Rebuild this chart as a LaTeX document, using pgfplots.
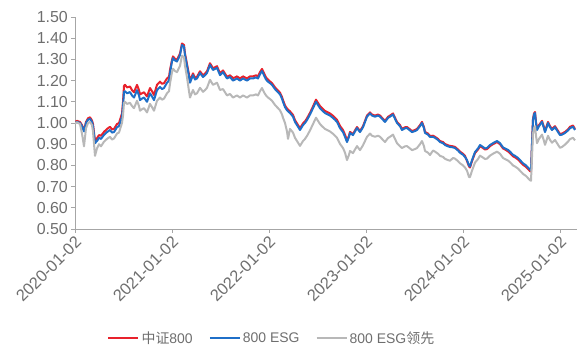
\documentclass[border=0pt]{standalone}
\usepackage{fontspec}
\setmainfont{Liberation Sans}
\newfontfamily\cjk{Noto Sans CJK SC}
\usepackage{pgfplots}
\usepackage{pgfplotstable}
\pgfplotsset{compat=1.18}
\definecolor{cred}{HTML}{E8222C}
\definecolor{cblue}{HTML}{1F6FC8}
\definecolor{cgray}{HTML}{B8B8B8}
\definecolor{ctext}{HTML}{6E6E6E}
\definecolor{caxis}{HTML}{A6A6A6}
\pgfplotstableread{
x red blue gray
0 1.005 1.000 1.000
2 1.010 1.005 1.003
5 1.005 1.000 0.995
7 0.990 0.985 0.950
9 0.965 0.960 0.890
11 1.005 1.000 0.975
13 1.022 1.015 1.000
15 1.027 1.020 1.005
17 1.012 1.005 0.990
18 0.995 0.985 0.960
20 0.915 0.905 0.845
22 0.928 0.915 0.880
24 0.943 0.930 0.900
26 0.940 0.925 0.890
29 0.958 0.944 0.912
32 0.972 0.957 0.925
35 0.982 0.967 0.935
37 0.970 0.955 0.922
39 0.972 0.957 0.927
42 0.995 0.980 0.950
44 1.000 0.985 0.955
45 1.015 1.000 0.970
47 1.045 1.030 1.000
48 1.100 1.080 1.035
49 1.175 1.146 1.095
50 1.180 1.150 1.100
52 1.168 1.140 1.090
55 1.172 1.146 1.095
57 1.155 1.130 1.080
59 1.145 1.120 1.070
62 1.180 1.155 1.105
64 1.155 1.130 1.080
65 1.135 1.108 1.058
67 1.140 1.115 1.065
69 1.145 1.120 1.070
72 1.125 1.100 1.050
75 1.165 1.140 1.090
77 1.150 1.125 1.075
79 1.132 1.108 1.058
82 1.180 1.155 1.105
85 1.195 1.170 1.120
87 1.185 1.160 1.110
89 1.188 1.165 1.115
92 1.210 1.190 1.140
94 1.218 1.200 1.150
95 1.250 1.236 1.186
97 1.298 1.290 1.240
98 1.314 1.306 1.256
100 1.303 1.295 1.245
102 1.298 1.290 1.240
105 1.328 1.320 1.270
107 1.375 1.368 1.318
109 1.368 1.360 1.310
110 1.328 1.320 1.270
112 1.278 1.270 1.215
114 1.228 1.220 1.150
115 1.198 1.190 1.120
118 1.234 1.226 1.156
120 1.213 1.205 1.135
122 1.218 1.210 1.140
125 1.244 1.236 1.166
128 1.225 1.217 1.147
130 1.233 1.225 1.155
132 1.244 1.236 1.166
135 1.282 1.274 1.204
138 1.258 1.250 1.180
140 1.263 1.255 1.185
142 1.268 1.260 1.190
145 1.234 1.226 1.156
148 1.248 1.240 1.160
150 1.233 1.225 1.145
152 1.218 1.210 1.130
155 1.225 1.217 1.137
158 1.212 1.200 1.120
160 1.215 1.205 1.125
162 1.220 1.210 1.130
165 1.210 1.200 1.120
168 1.220 1.210 1.130
170 1.215 1.205 1.125
172 1.210 1.200 1.120
175 1.220 1.210 1.130
178 1.220 1.210 1.130
181 1.225 1.215 1.135
183 1.220 1.210 1.130
185 1.240 1.230 1.150
187 1.255 1.245 1.165
189 1.235 1.225 1.145
191 1.215 1.205 1.130
193 1.205 1.195 1.120
195 1.196 1.188 1.113
197 1.188 1.180 1.105
200 1.168 1.160 1.085
202 1.158 1.150 1.075
205 1.143 1.135 1.060
207 1.123 1.115 1.040
208 1.108 1.100 1.025
210 1.083 1.075 1.000
212 1.068 1.060 0.960
213 1.063 1.055 0.925
215 1.055 1.047 0.972
218 1.038 1.030 0.955
220 1.013 1.005 0.930
222 0.998 0.990 0.915
225 0.975 0.967 0.892
228 0.998 0.990 0.915
230 1.008 1.000 0.925
232 1.022 1.014 0.939
235 1.048 1.040 0.965
238 1.078 1.070 0.995
241 1.110 1.100 1.025
243 1.095 1.085 1.010
245 1.080 1.070 0.995
247 1.070 1.060 0.985
250 1.057 1.047 0.972
253 1.050 1.040 0.965
255 1.045 1.035 0.960
258 1.034 1.024 0.949
260 1.025 1.015 0.940
262 1.015 1.005 0.930
265 0.986 0.976 0.901
268 0.967 0.957 0.882
270 0.945 0.935 0.860
272 0.918 0.910 0.825
274 0.940 0.935 0.850
275 0.958 0.953 0.868
278 0.948 0.943 0.858
280 0.965 0.960 0.875
282 0.981 0.976 0.891
285 0.962 0.957 0.872
288 0.985 0.980 0.895
290 1.010 1.005 0.915
292 1.035 1.030 0.935
295 1.050 1.045 0.950
297 1.040 1.035 0.940
300 1.035 1.030 0.935
303 1.040 1.035 0.940
305 1.035 1.030 0.935
308 1.020 1.015 0.920
310 1.010 1.005 0.910
313 1.029 1.024 0.929
315 1.035 1.030 0.935
318 1.045 1.040 0.945
320 1.025 1.020 0.925
322 1.005 1.000 0.905
325 0.990 0.985 0.890
327 0.972 0.967 0.882
330 0.980 0.975 0.890
332 0.981 0.976 0.891
335 0.970 0.965 0.880
337 0.962 0.957 0.872
340 0.967 0.962 0.877
342 0.972 0.967 0.882
345 0.990 0.985 0.900
347 1.005 1.000 0.915
349 0.980 0.975 0.890
350 0.958 0.953 0.868
353 0.950 0.945 0.860
355 0.939 0.934 0.849
358 0.940 0.935 0.870
360 0.935 0.930 0.865
363 0.925 0.920 0.855
365 0.915 0.910 0.845
368 0.910 0.905 0.840
370 0.901 0.896 0.831
373 0.895 0.890 0.825
375 0.892 0.887 0.822
378 0.890 0.885 0.835
380 0.887 0.882 0.832
383 0.875 0.870 0.820
385 0.865 0.860 0.810
388 0.855 0.850 0.800
390 0.845 0.840 0.790
392 0.820 0.825 0.775
394 0.795 0.800 0.745
395 0.790 0.795 0.745
397 0.820 0.825 0.775
400 0.858 0.863 0.813
403 0.875 0.880 0.830
405 0.891 0.896 0.846
408 0.882 0.887 0.837
410 0.875 0.880 0.830
412 0.877 0.882 0.832
415 0.891 0.896 0.846
418 0.900 0.905 0.855
420 0.905 0.910 0.860
422 0.910 0.915 0.865
425 0.900 0.905 0.855
428 0.880 0.885 0.835
430 0.875 0.880 0.830
433 0.866 0.873 0.823
435 0.858 0.865 0.815
438 0.843 0.850 0.800
440 0.838 0.845 0.795
443 0.828 0.835 0.785
445 0.818 0.825 0.775
448 0.803 0.810 0.760
451 0.793 0.800 0.750
453 0.783 0.790 0.740
455 0.773 0.780 0.730
456 0.771 0.778 0.728
457 0.905 0.900 0.840
458 1.019 1.014 0.950
459 1.045 1.040 0.975
460 1.052 1.047 0.985
461 1.005 1.000 0.940
462 0.972 0.967 0.905
464 0.990 0.985 0.925
467 1.010 1.005 0.945
469 0.980 0.975 0.915
470 0.962 0.957 0.897
472 0.990 0.985 0.925
473 1.005 1.000 0.940
475 0.985 0.980 0.920
477 0.972 0.967 0.907
480 0.985 0.980 0.920
482 0.970 0.965 0.905
485 0.948 0.943 0.883
487 0.950 0.945 0.887
490 0.958 0.953 0.898
493 0.970 0.965 0.912
495 0.982 0.976 0.924
498 0.988 0.982 0.930
500 0.972 0.967 0.918
}\datatab
\begin{document}
\begin{tikzpicture}
\useasboundingbox (0,0) rectangle (582bp,354bp);
\begin{axis}[
  at={(75bp,125bp)}, anchor=south west,
  scale only axis, width=502bp, height=212bp,
  xmin=0, xmax=502, ymin=0.5, ymax=1.5,
  axis x line*=bottom, axis y line*=left,
  axis line style={caxis, line width=0.8bp},
  every tick/.style={caxis, line width=0.8bp},
  tick align=outside, major tick length=4bp,
  xtick={0,97,194,291,388,485},
  xticklabels={2020-01-02,2021-01-02,2022-01-02,2023-01-02,2024-01-02,2025-01-02},
  xticklabel style={rotate=45, anchor=north east, inner sep=1bp, xshift=-1bp, font=\fontsize{16.5}{18}\selectfont, text=ctext},
  ytick={0.5,0.6,0.7,0.8,0.9,1.0,1.1,1.2,1.3,1.4,1.5},
  yticklabel style={font=\fontsize{16}{18}\selectfont, text=ctext, inner sep=3bp},
  /pgf/number format/fixed,
  /pgf/number format/fixed zerofill,
  /pgf/number format/precision=2,
  /pgf/number format/assume math mode=true,
  legend style={at={(0.392,-0.514)}, anchor=center, draw=none, fill=none,
    font=\fontsize{14}{16}\selectfont, text=ctext,
    /tikz/every even column/.append style={column sep=14bp}},
  legend columns=3,
  legend image code/.code={\draw[#1, line width=2.2bp] (0bp,0bp) -- (30bp,0bp);},
]
\addplot[cred, line width=2bp, line join=round] table[x=x, y=red] {\datatab};
\addlegendentry{{\cjk 中证}800}
\addplot[cblue, line width=2bp, line join=round] table[x=x, y=blue] {\datatab};
\addlegendentry{800 ESG}
\addplot[cgray, line width=2bp, line join=round] table[x=x, y=gray] {\datatab};
\addlegendentry{800 ESG{\cjk 领先}}
\end{axis}
\end{tikzpicture}
\end{document}
